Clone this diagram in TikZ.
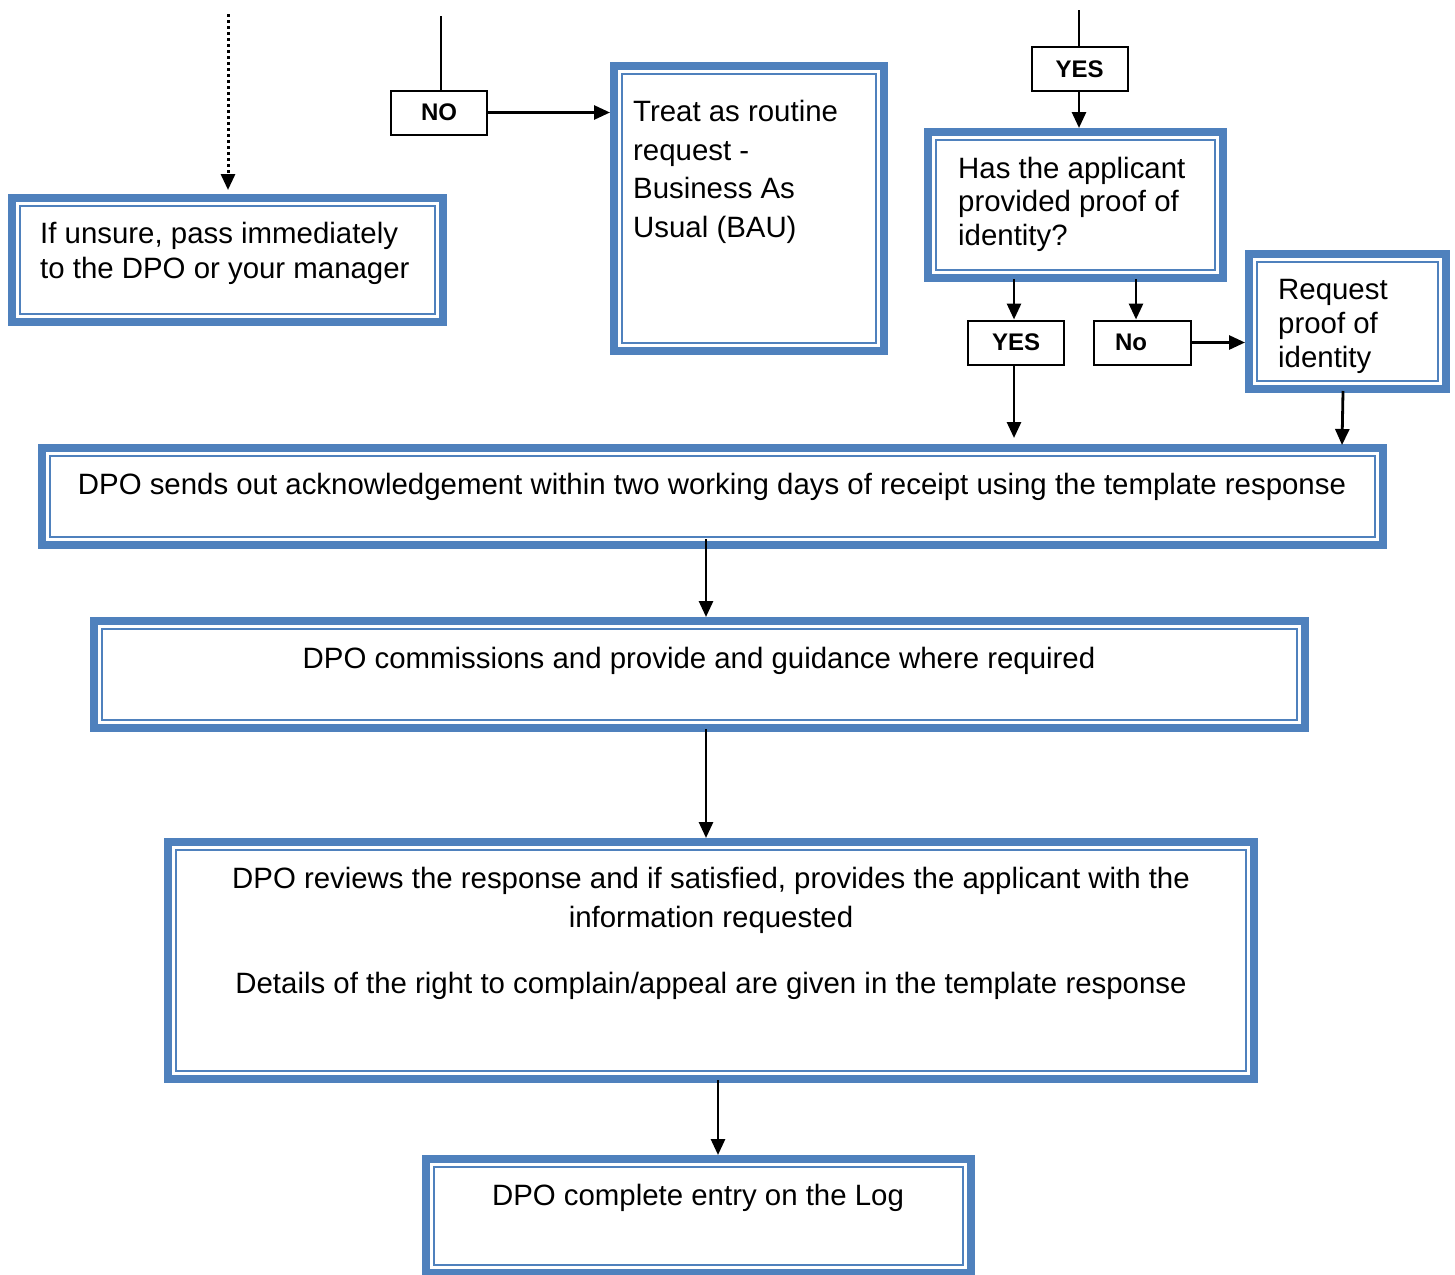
\documentclass[tikz,border=0pt]{standalone}
\usepackage{fontspec}
\setmainfont{Liberation Sans}
\usetikzlibrary{arrows.meta}
\definecolor{boxblue}{RGB}{79,129,189}
\tikzset{
  dbox/.style={rectangle, draw=boxblue, line width=8pt, inner sep=0pt,
    minimum width=#1,
    path picture={\draw[boxblue,line width=2.2pt]
      ([shift={(8pt,-8pt)}]path picture bounding box.north west) rectangle
      ([shift={(-8pt,8pt)}]path picture bounding box.south east);}},
  lbl/.style={rectangle, draw=black, line width=2pt, inner sep=0pt,
    minimum width=96pt, minimum height=44pt,
    font=\bfseries\fontsize{24}{28}\selectfont},
  txt/.style={inner sep=0pt, anchor=base west, font=\fontsize{29.4}{34}\selectfont},
  ctxt/.style={inner sep=0pt, anchor=base, font=\fontsize{29.4}{34}\selectfont},
  conn/.style={draw=black, line width=2.8pt, -{Triangle[length=16pt,width=14pt]}},
  plain/.style={draw=black, line width=2.8pt},
}
\begin{document}
\begin{tikzpicture}[x=1pt,y=-1pt]
\useasboundingbox[fill=white] (0,0) rectangle (1455,1274);

% blue boxes
\node[dbox=431pt, minimum height=124pt] (unsure) at (227.5,260) {};
\node[dbox=270pt, minimum height=285pt] (bau) at (749,208.5) {};
\node[dbox=295pt, minimum height=146pt] (has) at (1075.5,205) {};
\node[dbox=197pt, minimum height=135pt] (req) at (1347.5,321.5) {};
\node[dbox=1341pt, minimum height=97pt] (ack) at (712.5,496.5) {};
\node[dbox=1211pt, minimum height=107pt] (comm) at (699.5,674.5) {};
\node[dbox=1086pt, minimum height=237pt] (rev) at (711,960.5) {};
\node[dbox=545pt, minimum height=114pt] (log) at (698.5,1216) {};

% label boxes
\node[lbl] (no1) at (439,112.5) {NO};
\node[lbl] (yes1) at (1079.5,69) {YES};
\node[lbl] (yes2) at (1016,342.5) {YES};
\node[lbl, minimum width=0pt, text width=55pt, inner xsep=21pt, align=left] (no2) at (1142.5,342.5) {No};

% texts
\node[txt] (t1a) at (40,243) {If unsure, pass immediately};
\node[txt] (t1b) at (40,278) {to the DPO or your manager};
\node[txt] (t2a) at (633,121) {Treat as routine};
\node[txt] (t2b) at (633,160) {request -};
\node[txt] (t2c) at (633,198) {Business As};
\node[txt] (t2d) at (633,237) {Usual (BAU)};
\node[txt] (t3a) at (958,178) {Has the applicant};
\node[txt] (t3b) at (958,211) {provided proof of};
\node[txt] (t3c) at (958,245) {identity?};
\node[txt] (t4a) at (1278,299) {Request};
\node[txt] (t4b) at (1278,333) {proof of};
\node[txt] (t4c) at (1278,367) {identity};
\node[ctxt] (t5) at (712,494) {DPO sends out acknowledgement within two working days of receipt using the template response};
\node[ctxt] (t6) at (699,668) {DPO commissions and provide and guidance where required};
\node[ctxt] (t7a) at (711,888) {DPO reviews the response and if satisfied, provides the applicant with the};
\node[ctxt] (t7b) at (711,927) {information requested};
\node[ctxt] (t7c) at (711,993) {Details of the right to complain/appeal are given in the template response};
\node[ctxt] (t8) at (698,1205) {DPO complete entry on the Log};

% free ends
\coordinate (topdot) at (228,14);
\coordinate (topno) at (441,16);
\coordinate (topyes) at (1079,10);

% connectors
\draw[conn, dash pattern=on 3pt off 3pt, line width=3pt] (topdot) -- ([xshift=0.5pt,yshift=4pt]unsure.north);
\draw[plain] (topno) -- ([xshift=2pt]no1.north);
\draw[conn] (no1.east) -- (no1.east -| bau.west);
\draw[plain] (topyes) -- ([xshift=-0.5pt]yes1.north);
\draw[conn] ([xshift=-0.5pt]yes1.south) -- ([xshift=-0.5pt]yes1.south |- has.north);
\draw[conn] ([xshift=-2pt,yshift=3pt]yes2.north |- has.south) -- ([xshift=-2pt]yes2.north);
\draw[conn] ([xshift=-6.5pt,yshift=3pt]no2.north |- has.south) -- ([xshift=-6.5pt]no2.north);
\draw[conn] (no2.east) -- (no2.east -| req.west);
\draw[conn] ([xshift=-2pt]yes2.south) -- ([xshift=-2pt,yshift=6pt]yes2.south |- ack.north);
\draw[conn] ([xshift=-4.5pt,yshift=2pt]req.south) -- ([xshift=-5.5pt,yshift=-1pt]req.south |- ack.north);
\draw[conn] ([xshift=-6.5pt,yshift=10pt]ack.south) -- ([xshift=-6.5pt]ack.south |- comm.north);
\draw[conn] ([xshift=6.5pt,yshift=3pt]comm.south) -- ([xshift=6.5pt]comm.south |- rev.north);
\draw[conn] ([xshift=7pt,yshift=3pt]rev.south) -- ([xshift=7pt]rev.south |- log.north);
\end{tikzpicture}
\end{document}
